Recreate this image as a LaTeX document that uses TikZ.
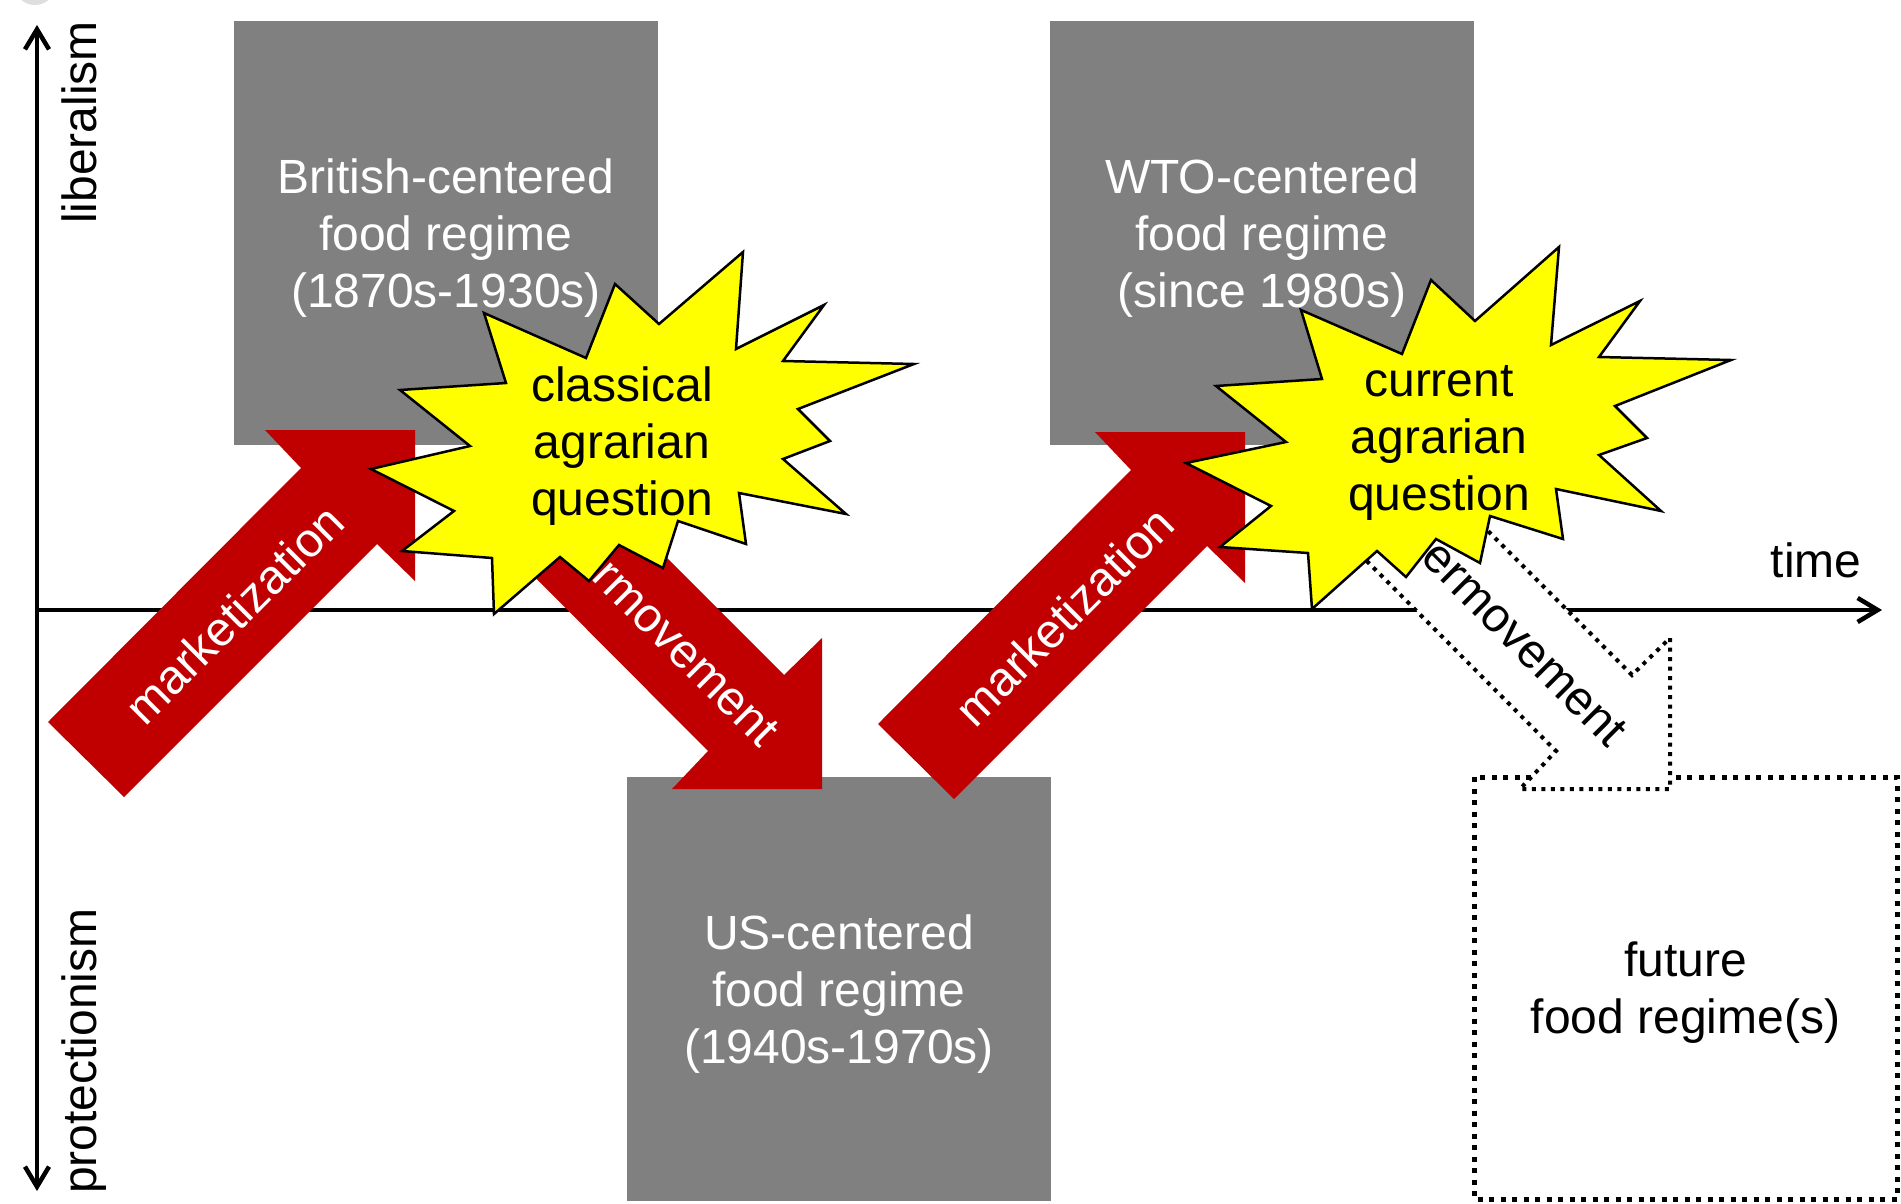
\documentclass[tikz,border=0pt]{standalone}
\usepackage{fontspec}
\setmainfont{Liberation Sans}
\usetikzlibrary{arrows.meta}
\definecolor{boxgray}{RGB}{128,128,128}
\definecolor{arrred}{RGB}{192,0,0}
\definecolor{staryel}{RGB}{255,255,0}
\definecolor{cornergray}{RGB}{222,222,222}
\begin{document}
\begin{tikzpicture}[x=1pt,y=-1pt,
  lbl/.style={font=\fontsize{48}{57}\selectfont, inner sep=0pt, align=center},
  regime/.style={lbl, fill=boxgray, text=white, minimum width=424pt, minimum height=424pt},
  futurebox/.style={draw=black, line width=5pt, dash pattern=on 5pt off 6.5pt},
  redarrow/.style={fill=arrred},
  dotarrow/.style={fill=white, draw=black, line width=4pt, dash pattern=on 4pt off 5.5pt},
  starshape/.style={fill=staryel, draw=black, line width=2.5pt, line join=miter},
  axisline/.style={line width=4.5pt}
]
\useasboundingbox (0,0) rectangle (1901,1204);
% corner artefact
\fill[cornergray] (35,-16) circle (21pt);

% regime boxes
\path[fill=boxgray] (234,21) rectangle (658,445);
\node[lbl, text=white] (brit) at (446,238) {British-centered\\food regime\\(1870s-1930s)};
\path[fill=boxgray] (1050,21) rectangle (1474,445);
\node[lbl, text=white] (wto) at (1262,238) {WTO-centered\\food regime\\(since 1980s)};
\path[fill=boxgray] (627,777) rectangle (1051,1201);
\node[lbl, text=white] (us) at (839,994) {US-centered\\food regime\\(1940s-1970s)};
\path[futurebox] (1474,777) rectangle (1897,1199);
\node[lbl] (fut) at (1685.5,993) {future\\food regime(s)};

% axes
\coordinate (ytop) at (37,25);
\coordinate (ybot) at (37,1191);
\coordinate (xorig) at (37,610);
\coordinate (xend) at (1882,610);
\draw[axisline, {Straight Barb[length=20pt,width=24pt]}-{Straight Barb[length=20pt,width=24pt]}] (ybot) -- (ytop);
\draw[axisline, -{Straight Barb[length=20pt,width=24pt]}] (xorig) -- (xend);
\node[lbl, rotate=90, anchor=base west] (lib) at (96,224) {liberalism};
\node[lbl, rotate=90, anchor=base west] (prot) at (96,1194) {protectionism};
\node[lbl, anchor=base] (time) at (1816,577) {time};

% marketization arrows
\fill[redarrow] (48,722) -- (301,468) -- (265,430) -- (415,430) -- (415,581) -- (377,544) -- (124,797) -- cycle;
\node[lbl, text=white, rotate=45] (mk1) at (234,614) {marketization};
\fill[redarrow] (878,724) -- (1131,470) -- (1095,432) -- (1245,432) -- (1245,583) -- (1207,546) -- (954,799) -- cycle;
\node[lbl, text=white, rotate=45] (mk2) at (1064,616) {marketization};

% countermovement arrows
\fill[redarrow] (465,507) -- (708,751) -- (672,789) -- (822,789) -- (822,638) -- (784,675) -- (541,432) -- cycle;
\node[lbl, text=white, rotate=-45] (cm1) at (635,602) {countermovement};
\path[dotarrow] (1313,507) -- (1556,751) -- (1520,789) -- (1670,789) -- (1670,638) -- (1632,675) -- (1389,432) -- cycle;
\node[lbl, text=black, rotate=-45] (cm2) at (1483,602) {countermovement};

% starbursts
\path[starshape] (743,252) -- (736,349) -- (824,305) -- (783,361) -- (914,364) -- (798,409) -- (830,441) -- (783,459) -- (846,514) -- (739,493) -- (746,544) -- (678,521) -- (663,568) -- (619,545) -- (589,581) -- (560,557) -- (494,614) -- (492,558) -- (402,551) -- (454,511) -- (371,469) -- (470,446) -- (400,390) -- (506,383) -- (484,313) -- (586,358) -- (615,284) -- (659,324) -- cycle;
\node[lbl] (caq) at (622,446) {classical\\agrarian\\question};
\path[starshape] (1559,247) -- (1551,345) -- (1640,301) -- (1599,357) -- (1731,360) -- (1615,406) -- (1647,438) -- (1599,455) -- (1661,511) -- (1556,489) -- (1563,539) -- (1490,516) -- (1480,563) -- (1436,539) -- (1406,577) -- (1377,551) -- (1312,609) -- (1308,553) -- (1220,547) -- (1271,506) -- (1186,463) -- (1286,442) -- (1216,386) -- (1322,379) -- (1301,310) -- (1402,354) -- (1431,280) -- (1475,321) -- cycle;
\node[lbl] (cuq) at (1439,443) {current\\agrarian\\question};
\end{tikzpicture}
\end{document}
